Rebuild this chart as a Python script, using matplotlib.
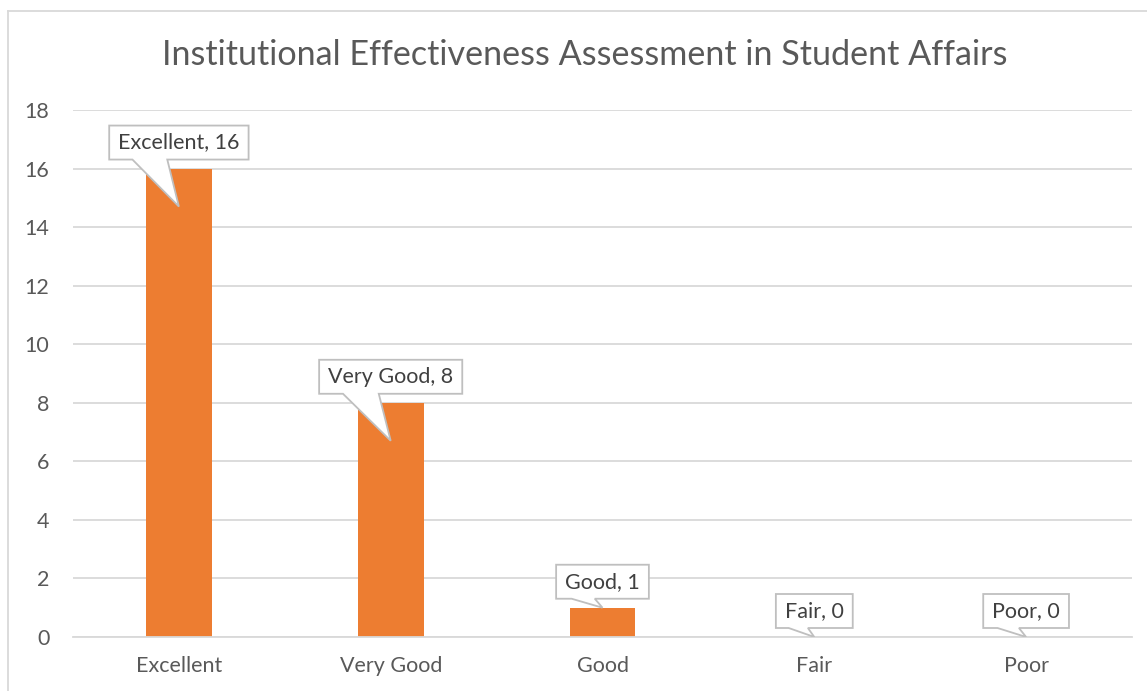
import matplotlib
matplotlib.use("Agg")
import matplotlib.pyplot as plt
from matplotlib.patches import Polygon
from matplotlib.lines import Line2D
from matplotlib.transforms import IdentityTransform

# ---- data ----
categories = ["Excellent", "Very Good", "Good", "Fair", "Poor"]
counts = [16, 8, 1, 0, 0]
y_ticks = [0, 2, 4, 6, 8, 10, 12, 14, 16, 18]
title = "Institutional Effectiveness Assessment in Student Affairs"

# ---- style ----
FONT = ["Lato", "DejaVu Sans"]
plt.rcParams["font.family"] = FONT
BAR = "#ED7D31"
GRID = "#D9D9D9"
TXT = "#595959"
LBL = "#404040"
EDGE = "#BFBFBF"
DPI = 100
W, H = 1147, 691

fig = plt.figure(figsize=(W / DPI, H / DPI), dpi=DPI)
fig.patch.set_facecolor("white")
ax = fig.add_axes([73 / W, 1 - 637 / H, (1132 - 73) / W, (637 - 110) / H])

x = list(range(len(categories)))
ax.bar(x, counts, width=0.31, color=BAR, zorder=2)
ax.set_xlim(-0.5, len(categories) - 0.5)
ax.set_ylim(0, 18)
ax.set_yticks(y_ticks)
ax.set_xticks(x)
ax.set_xticklabels(categories)
ax.tick_params(axis="both", length=0, labelsize=15.5, labelcolor=TXT)
ax.tick_params(axis="y", pad=17)
ax.tick_params(axis="x", pad=14)
ax.yaxis.grid(True, color=GRID, linewidth=1.3, zorder=0)
ax.set_axisbelow(True)
for s in ["top", "right", "left"]:
    ax.spines[s].set_visible(False)
ax.spines["bottom"].set_color(GRID)
ax.spines["bottom"].set_linewidth(1.3)

# chart-area border (left & top)
fig.add_artist(Line2D([8 / W, 8 / W], [0, 1 - 11 / H], color=GRID, lw=1.3, transform=fig.transFigure))
fig.add_artist(Line2D([8 / W, 1], [1 - 11 / H, 1 - 11 / H], color=GRID, lw=1.3, transform=fig.transFigure))

fig.text(585 / W, 1 - 65 / H, title, ha="center", va="baseline", fontsize=24.6, color=TXT)

# ---- callout data labels ----
GAP = 9         # px between value top and box bottom
TIP_DEPTH = 38  # px the pointer reaches below the value (clamped to bar)
PADX, PADY = 9, 7
texts = []
for xi, v, c in zip(x, counts, categories):
    t = ax.annotate(f"{c}, {v}", xy=(xi, v), xytext=(0, GAP + PADY), textcoords="offset pixels",
                    ha="center", va="bottom", fontsize=15.5, color=LBL, zorder=6)
    texts.append(t)

fig.canvas.draw()
renderer = fig.canvas.get_renderer()
for xi, v, t in zip(x, counts, texts):
    bb = t.get_window_extent(renderer)
    l, r = bb.x0 - PADX, bb.x1 + PADX
    b, tp = bb.y0 - PADY, bb.y1 + PADY
    w = r - l
    px, py = ax.transData.transform((xi, v))
    _, py0 = ax.transData.transform((xi, 0))
    tipy = max(py - TIP_DEPTH, py0) if v > 1 else py
    tipx = px
    x1 = l + w * 2 / 12
    x2 = l + w * 5 / 12
    pts = [(l, tp), (r, tp), (r, b), (x2, b), (tipx, tipy), (x1, b), (l, b)]
    poly = Polygon(pts, closed=True, facecolor="white", edgecolor=EDGE, lw=1.3,
                   transform=IdentityTransform(), zorder=5)
    ax.add_artist(poly)

fig.savefig("out.png", dpi=DPI)
